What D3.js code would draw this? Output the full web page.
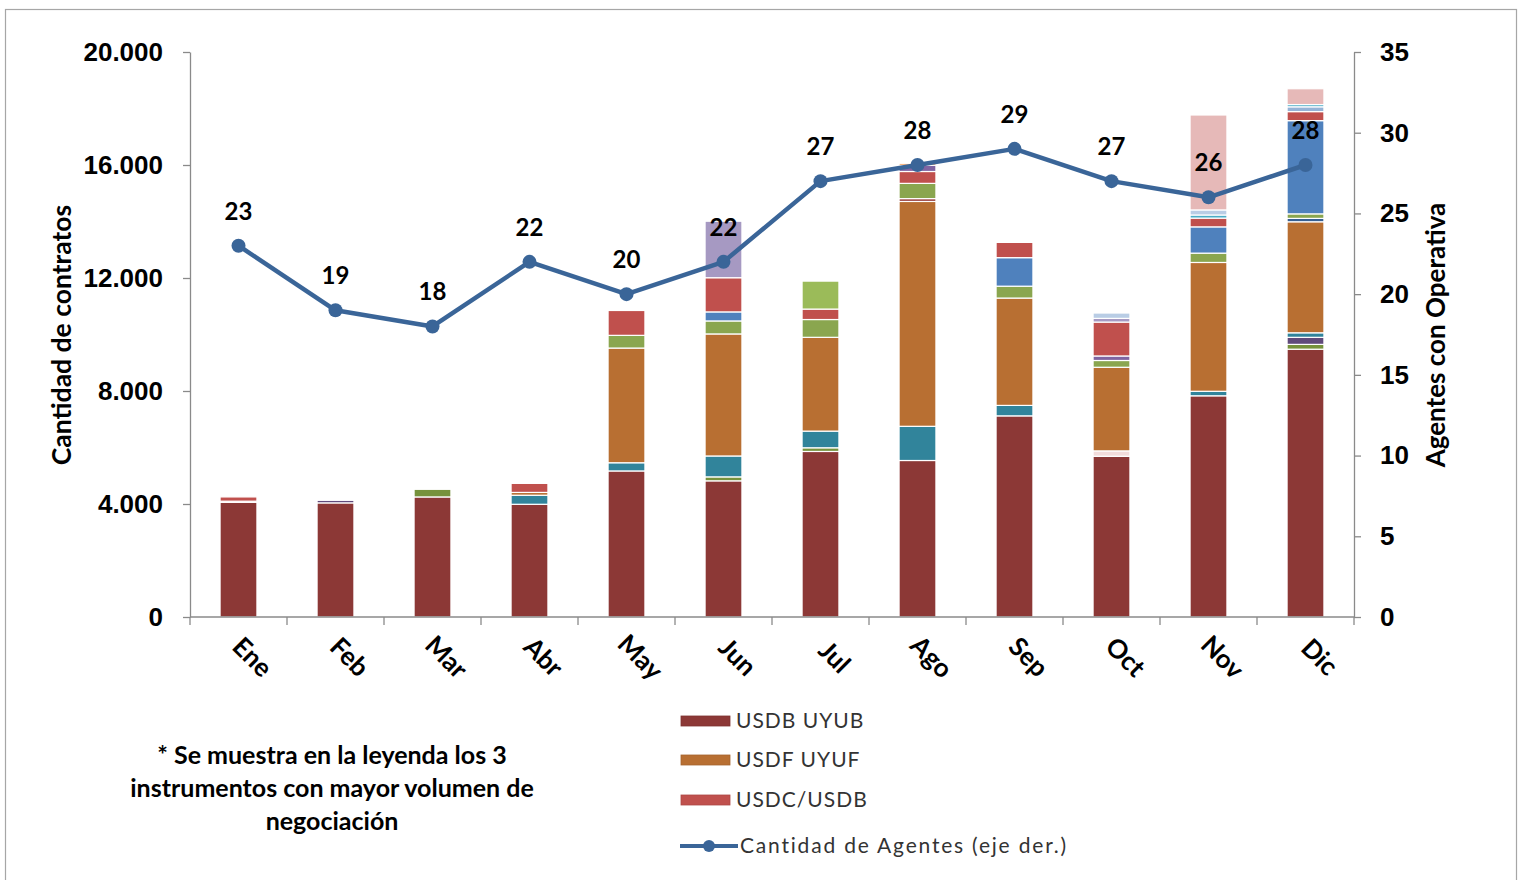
<!DOCTYPE html>
<html>
<head>
<meta charset="utf-8">
<script src="https://cdn.jsdelivr.net/npm/d3@7"></script>
<style>
  body { margin: 0; background: #fff; }
  svg { display: block; font-family: Lato, "Open Sans", sans-serif; }
</style>
</head>
<body>
<svg id="chart" width="1519" height="880"></svg>
<script>
// categories
const months = ['Ene', 'Feb', 'Mar', 'Abr', 'May', 'Jun', 'Jul', 'Ago', 'Sep', 'Oct', 'Nov', 'Dic'];

// line series (right axis)
const agentes = [23, 19, 18, 22, 20, 22, 27, 28, 29, 27, 26, 28];

// stacked series (left axis), bottom to top
const usdbUyub  = [4060, 4040, 4250, 3990, 5170, 4820, 5860, 5540, 7120, 5690, 7830, 9480];
const instOliva = [0, 0, 270, 0, 0, 140, 130, 0, 0, 0, 0, 170];
const instMorOs = [0, 90, 0, 0, 0, 0, 0, 0, 0, 0, 0, 250];
const instTeal  = [0, 0, 0, 320, 290, 740, 590, 1210, 370, 0, 160, 160];
const instRosaC = [40, 0, 0, 0, 0, 0, 0, 0, 0, 190, 0, 0];
const usdfUyuf  = [0, 0, 0, 100, 4060, 4320, 3320, 7960, 3800, 2960, 4560, 3930];
const instAzulO = [0, 0, 0, 0, 0, 0, 0, 0, 0, 0, 0, 120];
const instGrana = [0, 0, 0, 0, 0, 0, 0, 100, 0, 0, 0, 0];
const instVerde = [0, 0, 0, 0, 450, 460, 630, 540, 420, 240, 330, 160];
const instMorad = [0, 0, 0, 0, 0, 0, 0, 0, 0, 160, 0, 0];
const instAzul  = [0, 0, 0, 0, 0, 320, 0, 0, 1010, 0, 930, 3300];
const usdcUsdb  = [150, 0, 0, 320, 880, 1210, 370, 420, 540, 1200, 310, 320];
const instMora2 = [0, 0, 0, 0, 0, 0, 0, 220, 0, 0, 0, 0];
const instLila  = [0, 0, 0, 0, 0, 2000, 0, 0, 0, 130, 0, 0];
const instVerCl = [0, 0, 0, 0, 0, 0, 990, 0, 0, 0, 0, 0];
const instNaran = [0, 0, 0, 0, 0, 0, 0, 70, 0, 0, 0, 0];
const instAzGri = [0, 0, 0, 0, 0, 0, 0, 0, 0, 0, 0, 170];
const instCian  = [0, 0, 0, 0, 0, 0, 0, 0, 0, 0, 110, 80];
const instCeles = [0, 0, 0, 0, 0, 0, 0, 0, 0, 190, 180, 0];
const instRosa  = [0, 0, 0, 0, 0, 0, 0, 0, 0, 0, 3360, 560];

const seriesKeys = ['USDB UYUB', 'i02', 'i03', 'i04', 'i05', 'USDF UYUF', 'i07', 'i08', 'i09', 'i10',
  'i11', 'USDC/USDB', 'i13', 'i14', 'i15', 'i16', 'i17', 'i18', 'i19', 'i20'];
const seriesValues = [usdbUyub, instOliva, instMorOs, instTeal, instRosaC, usdfUyuf, instAzulO, instGrana,
  instVerde, instMorad, instAzul, usdcUsdb, instMora2, instLila, instVerCl, instNaran, instAzGri, instCian,
  instCeles, instRosa];
const seriesColors = ['#8C3836', '#76923C', '#604A7B', '#31849B', '#F2DCDB', '#B86F32', '#376092', '#953735',
  '#8AA64F', '#7F64A0', '#4F81BD', '#C0504D', '#8064A2', '#A699C2', '#9BBB59', '#F79646', '#95B3D7', '#4BACC6',
  '#B9CDE5', '#E6B9B8'];

const legendKeys = ['USDB UYUB', 'USDF UYUF', 'USDC/USDB'];
const lineName = 'Cantidad de Agentes (eje der.)';
const leftTicks = [0, 4000, 8000, 12000, 16000, 20000];
const rightTicks = [0, 5, 10, 15, 20, 25, 30, 35];
const footnote = ['* Se muestra en la leyenda los 3', 'instrumentos con mayor volumen de', 'negociación'];

const rows = months.map((m, i) => {
  const r = { month: m };
  seriesKeys.forEach((k, j) => { r[k] = seriesValues[j][i]; });
  return r;
});

const svg = d3.select('#chart');
const color = d3.scaleOrdinal().domain(seriesKeys).range(seriesColors);
const axisColor = '#8A8A8A';

const plot = { left: 190, right: 1354, top: 52, bottom: 617 };

const x = d3.scaleBand()
  .domain(months)
  .range([plot.left, plot.right])
  .paddingInner(0.62)
  .paddingOuter(0.31);

const yL = d3.scaleLinear().domain([0, 20000]).range([plot.bottom, plot.top]);
const yR = d3.scaleLinear().domain([0, 35]).range([plot.bottom, plot.top]);

const esFormat = d3.formatLocale({ decimal: ',', thousands: '.', grouping: [3], currency: ['', ''] }).format(',');

// chart border
svg.append('rect')
  .attr('x', 5.5).attr('y', 9.5)
  .attr('width', 1511).attr('height', 900)
  .attr('fill', 'none')
  .attr('stroke', '#A6A6A6')
  .attr('stroke-width', 1.2);

// ---- BARS ----
const stacked = d3.stack().keys(seriesKeys)(rows);

svg.append('g')
  .selectAll('g')
  .data(stacked)
  .join('g')
  .attr('fill', d => color(d.key))
  .selectAll('rect')
  .data(d => d.filter(s => s[1] - s[0] > 0))
  .join('rect')
  .attr('x', d => x(d.data.month))
  .attr('width', x.bandwidth())
  .attr('y', d => yL(d[1]))
  .attr('height', d => yL(d[0]) - yL(d[1]))
  .attr('stroke', '#fff')
  .attr('stroke-width', 1.2);

// ---- AXES ----
const gLeft = svg.append('g')
  .attr('transform', `translate(${plot.left},0)`)
  .call(d3.axisLeft(yL).tickValues(leftTicks).tickFormat(esFormat).tickSize(7).tickSizeOuter(0).tickPadding(20));

const gRight = svg.append('g')
  .attr('transform', `translate(${plot.right},0)`)
  .call(d3.axisRight(yR).tickValues(rightTicks).tickSize(7).tickSizeOuter(0).tickPadding(19));

[gLeft, gRight].forEach(g => {
  g.select('.domain').attr('stroke', axisColor).attr('stroke-width', 1.3);
  g.selectAll('.tick line').attr('stroke', axisColor).attr('stroke-width', 1.3);
  g.selectAll('.tick text')
    .attr('fill', '#000')
    .style('font-size', '26px')
    .style('font-weight', 'bold');
});

// bottom axis: baseline, boundary ticks, rotated labels
const gBottom = svg.append('g');
gBottom.append('line')
  .attr('x1', plot.left).attr('x2', plot.right)
  .attr('y1', plot.bottom).attr('y2', plot.bottom)
  .attr('stroke', axisColor).attr('stroke-width', 1.3);

const gap = (x.step() - x.bandwidth()) / 2;
const bounds = months.map(m => x(m) - gap).concat([plot.right]);
gBottom.selectAll('line.tick')
  .data(bounds)
  .join('line')
  .attr('class', 'tick')
  .attr('x1', d => d).attr('x2', d => d)
  .attr('y1', plot.bottom).attr('y2', plot.bottom + 8)
  .attr('stroke', axisColor).attr('stroke-width', 1.3);

gBottom.selectAll('text')
  .data(months)
  .join('text')
  .attr('transform', d => `translate(${x(d) + x.bandwidth() / 2 + 14},${plot.bottom + 40}) rotate(45)`)
  .attr('text-anchor', 'middle')
  .attr('dy', '0.35em')
  .style('font-size', '26px')
  .style('font-weight', 'bold')
  .text(d => d);

// axis titles
svg.append('text')
  .attr('transform', `translate(71,335) rotate(-90)`)
  .attr('text-anchor', 'middle')
  .style('font-size', '26.5px')
  .style('font-weight', 'bold')
  .text('Cantidad de contratos');

svg.append('text')
  .attr('transform', `translate(1445,335) rotate(-90)`)
  .attr('text-anchor', 'middle')
  .style('font-size', '26px')
  .style('font-weight', 'bold')
  .text('Agentes con Operativa');

// ---- LINE ----
const lineColor = '#3A6598';
const cx = d => x(d.month) + x.bandwidth() / 2;
const linePts = months.map((m, i) => ({ month: m, v: agentes[i] }));

svg.append('path')
  .datum(linePts)
  .attr('fill', 'none')
  .attr('stroke', lineColor)
  .attr('stroke-width', 4.5)
  .attr('stroke-linejoin', 'round')
  .attr('d', d3.line().x(cx).y(d => yR(d.v)));

svg.append('g')
  .selectAll('circle')
  .data(linePts)
  .join('circle')
  .attr('cx', cx)
  .attr('cy', d => yR(d.v))
  .attr('r', 7)
  .attr('fill', lineColor);

svg.append('g')
  .selectAll('text')
  .data(linePts)
  .join('text')
  .attr('x', cx)
  .attr('y', d => yR(d.v) - 26)
  .attr('text-anchor', 'middle')
  .style('font-size', '24px')
  .style('font-weight', 'bold')
  .text(d => d.v);

// ---- LEGEND ----
const legend = svg.append('g');
const legendY = [721, 760, 800];
legendKeys.forEach((k, i) => {
  legend.append('rect')
    .attr('x', 681).attr('y', legendY[i] - 5)
    .attr('width', 49).attr('height', 10)
    .attr('fill', color(k))
    .attr('stroke', d3.color(color(k)).darker(0.3))
    .attr('stroke-width', 0.8);
  legend.append('text')
    .attr('x', 736).attr('y', legendY[i])
    .attr('dy', '0.35em')
    .attr('fill', '#333')
    .style('font-size', '21px')
    .style('letter-spacing', '1px')
    .text(k);
});
legend.append('line')
  .attr('x1', 680).attr('x2', 738)
  .attr('y1', 846).attr('y2', 846)
  .attr('stroke', lineColor).attr('stroke-width', 4);
legend.append('circle')
  .attr('cx', 709).attr('cy', 846).attr('r', 6)
  .attr('fill', lineColor);
legend.append('text')
  .attr('x', 740).attr('y', 846)
  .attr('dy', '0.35em')
  .attr('fill', '#333')
  .style('font-size', '21px')
  .style('letter-spacing', '1.8px')
  .text(lineName);

// ---- FOOTNOTE ----
svg.append('g')
  .selectAll('text')
  .data(footnote)
  .join('text')
  .attr('x', 332)
  .attr('y', (d, i) => 755 + i * 33)
  .attr('dy', '0.35em')
  .attr('text-anchor', 'middle')
  .style('font-size', '25px')
  .style('font-weight', 'bold')
  .text(d => d);
</script>
</body>
</html>
